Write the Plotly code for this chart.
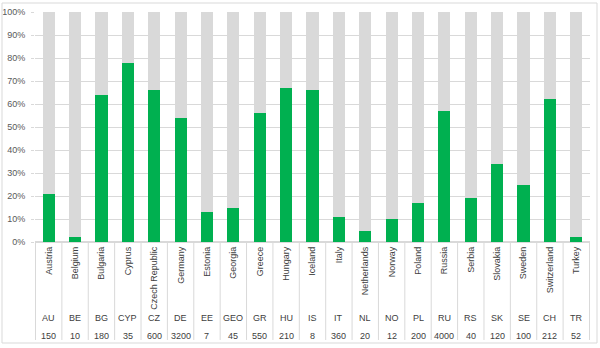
import plotly.graph_objects as go

countries = ["Austria", "Belgium", "Bulgaria", "Cyprus", "Czech Republic", "Germany", "Estonia",
             "Georgia", "Greece", "Hungary", "Iceland", "Italy", "Netherlands", "Norway", "Poland",
             "Russia", "Serbia", "Slovakia", "Sweden", "Switzerland", "Turkey"]
codes = ["AU", "BE", "BG", "CYP", "CZ", "DE", "EE", "GEO", "GR", "HU", "IS", "IT", "NL", "NO",
         "PL", "RU", "RS", "SK", "SE", "CH", "TR"]
counts = [150, 10, 180, 35, 600, 3200, 7, 45, 550, 210, 8, 360, 20, 12, 200, 4000, 40, 120, 100, 212, 52]
green_pct = [21, 2, 64, 78, 66, 54, 13, 15, 56, 67, 66, 11, 5, 10, 17, 57, 19, 34, 25, 62, 2]
grey_pct = [100 - v for v in green_pct]

FONT = "Liberation Sans"
TXT = "#404040"

fig = go.Figure()
fig.add_trace(go.Bar(x=countries, y=green_pct, marker=dict(color="#00b050", line=dict(width=0)),
                     width=0.46, showlegend=False))
fig.add_trace(go.Bar(x=countries, y=grey_pct, marker=dict(color="#d9d9d9", line=dict(width=0)),
                     width=0.46, showlegend=False))

ann = []
for i, (c, n) in enumerate(zip(codes, counts)):
    ann.append(dict(x=i, y=-0.33, xref="x", yref="paper", text=c, showarrow=False,
                    font=dict(family=FONT, size=9, color=TXT), xanchor="center", yanchor="middle"))
    ann.append(dict(x=i, y=-0.408, xref="x", yref="paper", text=str(n), showarrow=False,
                    font=dict(family=FONT, size=9, color=TXT), xanchor="center", yanchor="middle"))

shapes = []
for i in range(len(countries) + 1):
    shapes.append(dict(type="line", xref="x", yref="paper", x0=i - 0.5, x1=i - 0.5,
                       y0=0, y1=-0.426, line=dict(color="#d9d9d9", width=1)))
# chart outer border
shapes.append(dict(type="rect", xref="paper", yref="paper", x0=-33 / 555, x1=1 + 7 / 555,
                   y0=-101 / 230, y1=1 + 9 / 230, line=dict(color="#d9d9d9", width=1)))

fig.update_layout(
    barmode="stack",
    width=600, height=348,
    margin=dict(l=35, r=10, t=12, b=106),
    plot_bgcolor="white", paper_bgcolor="white",
    annotations=ann, shapes=shapes,
    bargap=0.54,
    xaxis=dict(type="category", tickangle=-90, tickfont=dict(family=FONT, size=9, color=TXT),
               showgrid=False, showline=False, ticks="", ticklen=0, fixedrange=True,
               ticklabelstandoff=2, automargin=False),
    yaxis=dict(range=[0, 100], tickvals=[0, 10, 20, 30, 40, 50, 60, 70, 80, 90, 100],
               ticktext=[f"{v}%" for v in range(0, 101, 10)],
               tickfont=dict(family=FONT, size=9, color="#595959"),
               showgrid=True, gridcolor="#d9d9d9", gridwidth=1, zeroline=True,
               zerolinecolor="#d9d9d9", showline=False, ticks="outside", ticklen=3,
               tickcolor="#d9d9d9", ticklabelstandoff=4, automargin=False),
)

fig.write_html("out.html")
